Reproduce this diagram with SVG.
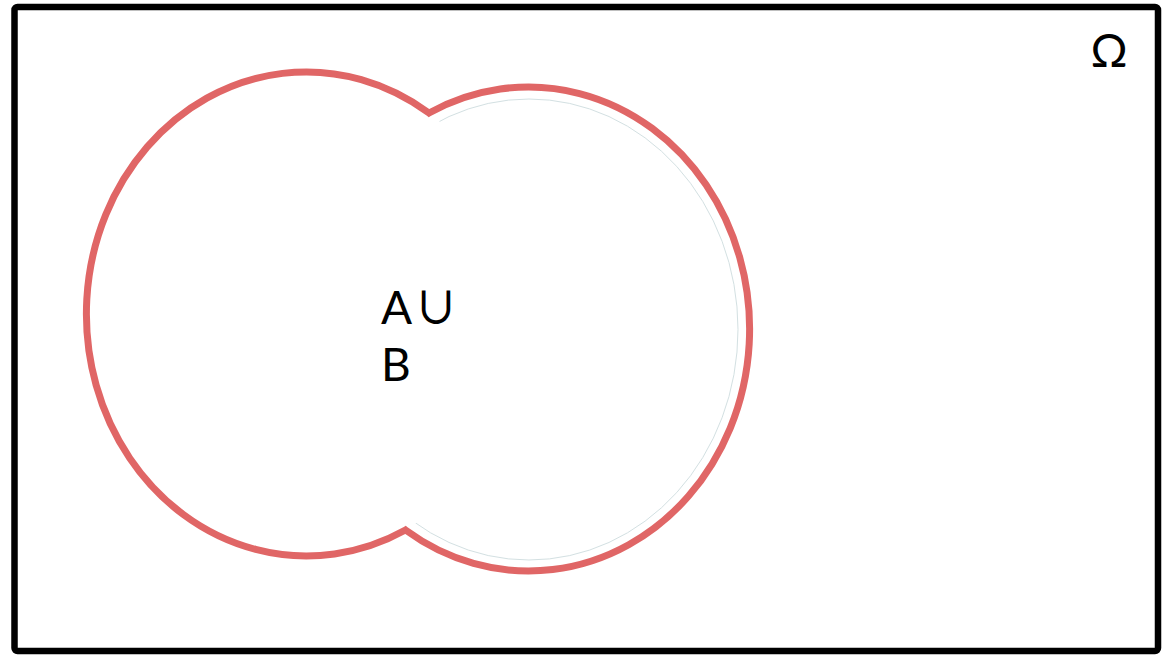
<svg xmlns="http://www.w3.org/2000/svg" width="1165" height="655" viewBox="0 0 1165 655">
<style>
.lbl{font-family:Lato,"Open Sans",sans-serif;font-size:46px;fill:#000}
.sym{font-family:"Noto Sans CJK JP",sans-serif;font-size:44px;font-weight:500}
</style>
<rect x="0" y="0" width="1165" height="655" fill="#fff"/>
<g id="omega">
<rect x="14.5" y="7" width="1143.5" height="644" rx="3" fill="#fff" stroke="#000" stroke-width="6.5"/>
<text class="lbl" x="1109" y="67" text-anchor="middle">Ω</text>
</g>
<g id="B">
<ellipse cx="529" cy="329.5" rx="209" ry="230.5" fill="none" stroke="#d3e0e2" stroke-width="1"/>
</g>
<g id="A">
<ellipse cx="306" cy="313.75" rx="220" ry="242" fill="#fff"/>
</g>
<g id="union">
<path d="M 429 113 A 220 242 0 1 0 405.5 530 A 221 242 0 1 0 429 113 Z" fill="none" stroke="#e06666" stroke-width="7" stroke-linejoin="miter"/>
<text class="lbl" x="381" y="324">A<tspan class="sym" x="414">∪</tspan></text>
<text class="lbl" x="381" y="381">B</text>
</g>
</svg>
